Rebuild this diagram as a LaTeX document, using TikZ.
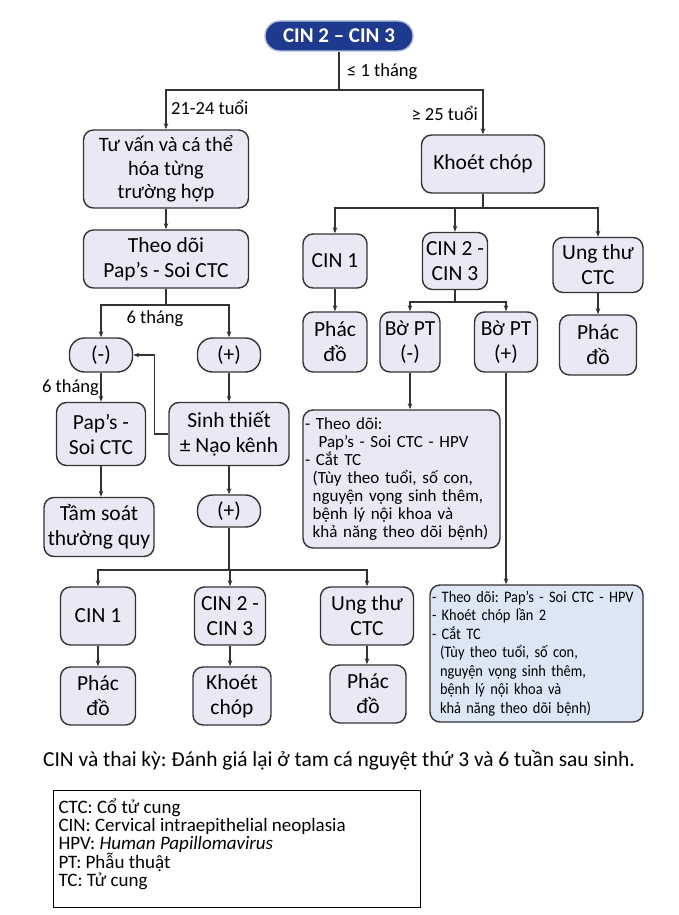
\documentclass[tikz,border=0pt]{standalone}
\usepackage{fontspec}
\setmainfont{Carlito}
\newfontfamily\narrowfont[FakeStretch=0.9]{Carlito}
\usetikzlibrary{arrows.meta}
\definecolor{boxfill}{HTML}{E9E9F5}
\definecolor{notefill}{HTML}{DCE6F4}
\definecolor{titleblue}{HTML}{1D3A8F}
\definecolor{linegray}{HTML}{333333}
\frenchspacing

\begin{document}
\begin{tikzpicture}[x=1pt,y=-1pt,
    box/.style={draw=linegray,line width=1.4pt,rounded corners=10pt,fill=boxfill,
        align=center,inner sep=0pt,font=\fontsize{21.5}{25}\selectfont},
    sz/.style 2 args={minimum width=#1pt,minimum height=#2pt},
    pill/.style={box,rounded corners=15pt,minimum width=63pt,minimum height=34pt},
    notebox/.style={draw=linegray,line width=1.4pt,rounded corners=10pt,fill=boxfill,
        align=left,inner xsep=2pt,inner ysep=0pt},
    lbl/.style={font=\fontsize{18.5}{20}\selectfont,inner sep=0pt},
    line/.style={draw=linegray,line width=1.1pt},
    arr/.style={line,-{Stealth[length=6pt,width=4.5pt]}}]

    \useasboundingbox (0,0) rectangle (679,915);

    \node[box,fill=titleblue,draw=titleblue!35,text=white,rounded corners=15pt,
        font=\bfseries\fontsize{21}{24}\selectfont,sz={148}{30}] (title) at (339,36) {CIN 2 – CIN 3};

    \node[box,sz={165}{78},font=\fontsize{20.5}{23.5}\selectfont] (tuvan) at (166,169) {Tư vấn và cá thể\\hóa từng\\trường hợp};
    \node[box,sz={123}{58}] (khoet) at (483,164) {Khoét chóp};
    \node[box,sz={165}{58}] (theodoi) at (166,259) {Theo dõi\\Pap’s - Soi CTC};

    \node[box,sz={64}{54}] (cinA) at (335,261) {CIN 1};
    \node[box,sz={65}{57}] (cinB) at (455,261) {CIN 2 -\\CIN 3};
    \node[box,sz={90}{55}] (ungA) at (598,265) {Ung thư\\CTC};
    \node[box,sz={64}{60}] (phacA) at (335,342) {Phác\\đồ};
    \node[box,sz={60}{60}] (borA) at (410,342) {Bờ PT\\(-)};
    \node[box,sz={63}{60}] (borB) at (506,342) {Bờ PT\\(+)};
    \node[box,sz={77}{60}] (phacB) at (598,345) {Phác\\đồ};

    \node[pill] (neg) at (101,355) {(-)};
    \node[pill] (posA) at (229,355) {(+)};
    \node[box,sz={89}{63}] (paps) at (101,434) {Pap’s -\\Soi CTC};
    \node[box,sz={120}{63}] (sinhthiet) at (229,434) {Sinh thiết\\± Nạo kênh};
    \node[box,sz={110}{59}] (tamsoat) at (99,527) {Tầm soát\\thường quy};
    \node[pill,minimum height=32pt] (posB) at (229,511) {(+)};

    \node[notebox,text width=193pt,minimum height=138pt,font=\fontsize{17}{18}\selectfont]
        (planA) at (401.5,479) {- Theo dõi:\\
        \hspace*{0.8em}Pap’s - Soi CTC - HPV\\
        - Cắt TC\\
        \hspace*{0.45em}(Tùy theo tuổi, số con,\\
        \hspace*{0.45em}nguyện vọng sinh thêm,\\
        \hspace*{0.45em}bệnh lý nội khoa và\\
        \hspace*{0.45em}khả năng theo dõi bệnh)};
    \node[notebox,fill=notefill,text width=209pt,minimum height=137pt,font=\narrowfont\fontsize{16}{18.5}\selectfont]
        (planB) at (536.5,653.5) {- Theo dõi: Pap’s - Soi CTC - HPV\\
        - Khoét chóp lần 2\\
        - Cắt TC\\
        \hspace*{0.5em}(Tùy theo tuổi, số con,\\
        \hspace*{0.5em}nguyện vọng sinh thêm,\\
        \hspace*{0.5em}bệnh lý nội khoa và\\
        \hspace*{0.5em}khả năng theo dõi bệnh)};

    \node[box,sz={75}{58}] (cinC) at (98,616) {CIN 1};
    \node[box,sz={71}{58}] (cinD) at (230,616) {CIN 2 -\\CIN 3};
    \node[box,sz={93}{58}] (ungB) at (367,616) {Ung thư\\CTC};
    \node[box,sz={75}{58}] (phacC) at (98,696) {Phác\\đồ};
    \node[box,sz={78}{58}] (khoetB) at (232,696) {Khoét\\chóp};
    \node[box,sz={76}{58}] (phacD) at (368,694) {Phác\\đồ};

    \node[lbl,anchor=west] (lmonth) at (347,72) {≤ 1 tháng};
    \node[lbl,anchor=west] (lyoung) at (171,107) {21-24 tuổi};
    \node[lbl,anchor=east] (lold) at (478,113) {≥ 25 tuổi};
    \node[lbl] (lsix) at (155,319) {6 tháng};
    \node[lbl,anchor=east] (lsixb) at (99,388) {6 tháng};

    \coordinate (jA) at (339,90);
    \coordinate (jB) at (166,305);
    \coordinate (jC) at (483,208);
    \coordinate (jD) at (229,570);
    \coordinate (jE) at (455,302);

    \draw[line] (title) -- (jA);
    \foreach \n in {tuvan,khoet}
        \draw[arr] (jA) -| (\n.north);
    \draw[arr] (tuvan) -- (theodoi);
    \draw[line] (theodoi) -- (jB);
    \foreach \n in {neg,posA}
        \draw[arr] (jB) -| (\n.north);
    \draw[arr] (neg) -- (paps);
    \draw[arr] (paps.south) -- (paps.south |- tamsoat.north);
    \draw[arr] (posA) -- (sinhthiet);
    \draw[arr] (sinhthiet.west) -- ++(-14,0) |- (neg.east);
    \draw[arr] (sinhthiet) -- (posB);
    \draw[line] (posB) -- (jD);
    \foreach \n in {cinC,cinD,ungB}
        \draw[arr] (jD) -| (\n.north);
    \draw[arr] (cinC) -- (phacC);
    \draw[arr] (cinD.south) -- (cinD.south |- khoetB.north);
    \draw[arr] (ungB.south) -- (ungB.south |- phacD.north);

    \draw[line] (khoet) -- (jC);
    \foreach \n in {cinA,cinB,ungA}
        \draw[arr] (jC) -| (\n.north);
    \draw[arr] (cinA) -- (phacA);
    \draw[arr] (ungA) -- (phacB);
    \draw[line] (cinB) -- (jE);
    \foreach \n in {borA,borB}
        \draw[arr] (jE) -| (\n.north);
    \draw[arr] (borA.south) -- (borA.south |- planA.north);
    \draw[arr] (borB.south) -- (borB.south |- planB.north);

    \node[anchor=west,inner sep=0pt,font=\fontsize{21.4}{24}\selectfont] (pregnancy) at (43,760)
        {CIN và thai kỳ: Đánh giá lại ở tam cá nguyệt thứ 3 và 6 tuần sau sinh.};
    \node[draw=black,line width=1pt,anchor=north west,inner xsep=5pt,inner ysep=8.5pt,
        font=\fontsize{19}{17.8}\selectfont] (legend) at (53,790)
        {\parbox[c][100pt][t]{357pt}{CTC: Cổ tử cung\\
        CIN: Cervical intraepithelial neoplasia\\
        HPV: \textit{Human Papillomavirus}\\
        PT: Phẫu thuật\\
        TC: Tử cung}};
\end{tikzpicture}
\end{document}
